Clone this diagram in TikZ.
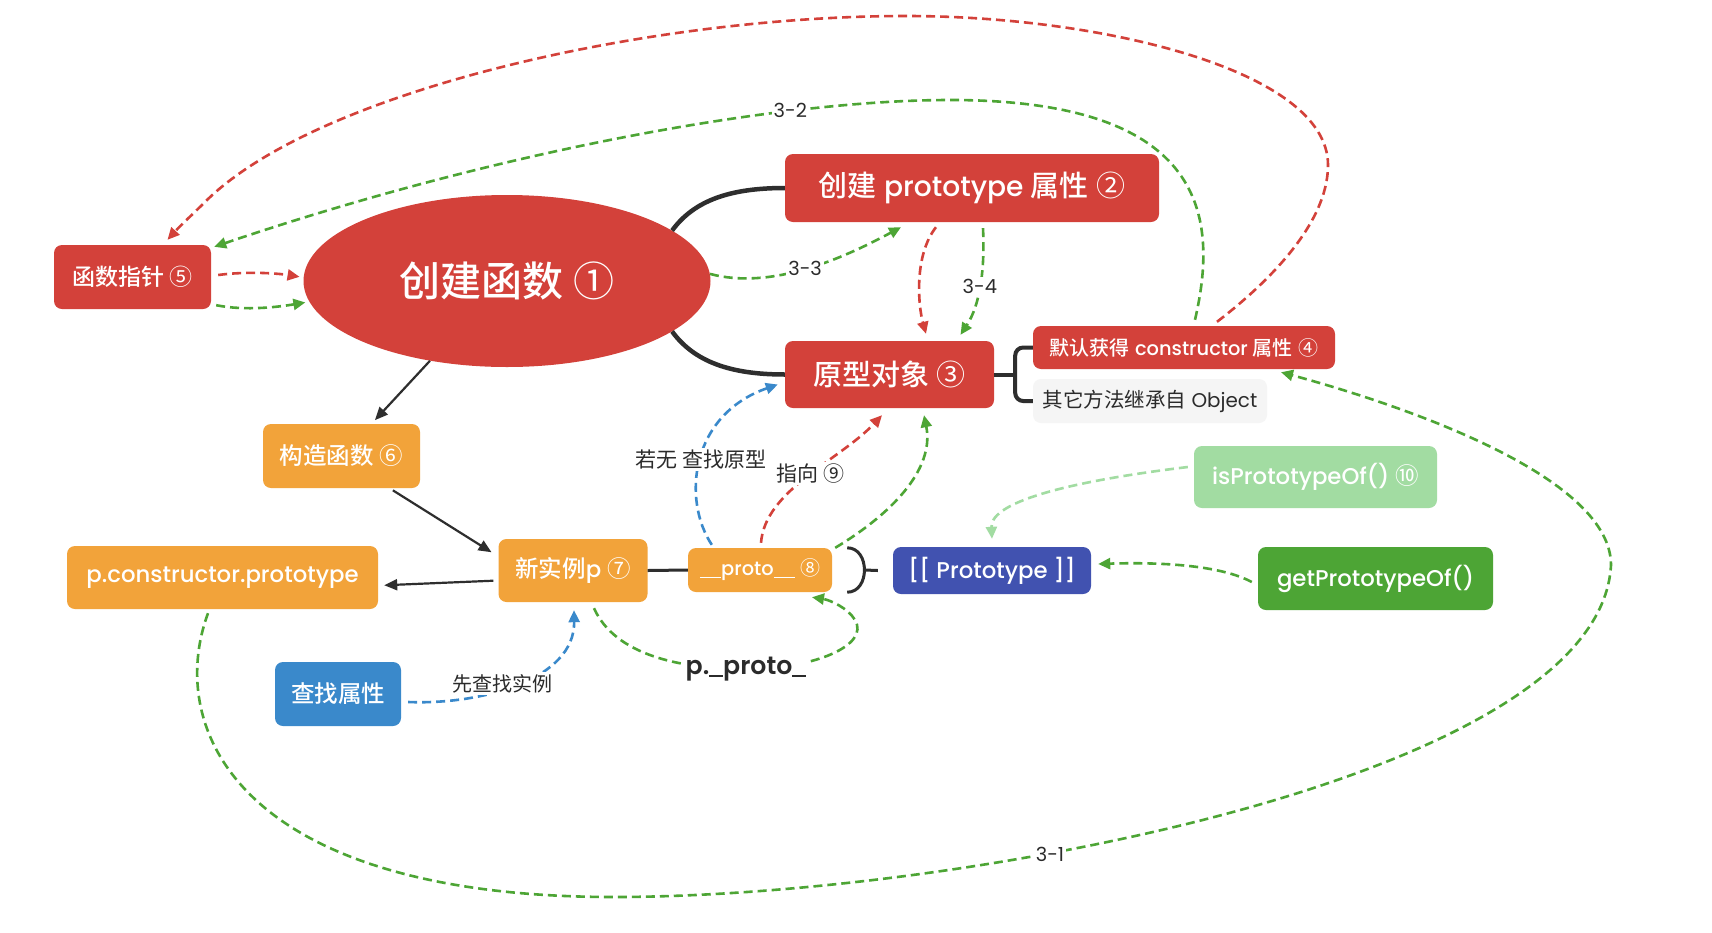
\documentclass[tikz,border=0pt]{standalone}
\usepackage{fontspec}
\IfFontExistsTF{Poppins Medium}
  {\setmainfont{Poppins}[Scale=0.97, BoldFont={Poppins Medium}]}
  {\setmainfont{Poppins}[Scale=0.97]}
\IfFontExistsTF{Poppins SemiBold}
  {\newfontfamily\popsb{Poppins SemiBold}[Scale=0.97]}
  {\newfontfamily\popsb{Poppins Bold}[Scale=0.97]}
\IfFontExistsTF{Noto Sans CJK SC Medium}
  {\newfontfamily\cjk{Noto Sans CJK SC}[BoldFont={Noto Sans CJK SC Medium}]}
  {\newfontfamily\cjk{Noto Sans CJK SC}}
\usetikzlibrary{arrows.meta,shapes.geometric,calc}
\definecolor{cRed}{HTML}{D3413A}
\definecolor{cOrange}{HTML}{F2A33A}
\definecolor{cBlue}{HTML}{3A89CB}
\definecolor{cIndigo}{HTML}{4152B0}
\definecolor{cLightGreen}{HTML}{A2DCA2}
\definecolor{cGreen}{HTML}{4DA535}
\definecolor{cGray}{HTML}{F5F5F5}
\definecolor{cText}{HTML}{2B2B2B}
\definecolor{cLine}{HTML}{2E2E2E}
\newcommand\myfs[1]{\fontsize{#1}{#1}\selectfont}
\newcommand\zh[1]{{\cjk #1}}
\newcommand\cnum[1]{{\cjk\mdseries #1}}
\newcommand\us{\rule[-0.12em]{0.55em}{0.085em}}
\tikzset{
  box/.style={rectangle, rounded corners=8pt, inner sep=0pt, text=white, font=\bfseries\myfs{23.5}},
  redbox/.style={box, fill=cRed},
  orangebox/.style={box, fill=cOrange},
  mind/.style={draw=cLine, line width=4.5pt},
  arr/.style={draw=cLine, line width=2.2pt, -{Triangle[length=13pt,width=11pt]}},
  dline/.style={dash pattern=on 9pt off 5pt, line width=2.6pt, -{Triangle[length=12pt,width=11pt]}},
  lbl/.style={fill=white, inner sep=2pt, text=cText, font=\myfs{20}},
  plbl/.style={fill=white, inner sep=2pt, text=cText, font=\popsb\myfs{26}},
}
\begin{document}
\begin{tikzpicture}[x=1pt,y=-1pt]
\fill[white] (0,0) rectangle (1712,932);
\useasboundingbox (0,0) rectangle (1712,932);

% nodes
\node[redbox, minimum width=157pt, minimum height=64pt, font=\bfseries\myfs{23}] (fp) at (132.5,277) {\zh{函数指针} \cnum{⑤}};
\node[ellipse, fill=cRed, minimum width=407pt, minimum height=172pt, inner sep=0pt, text=white, font=\bfseries\myfs{41}] (cf) at (507,281) {\zh{创建函数} \cnum{①}};
\node[redbox, minimum width=374pt, minimum height=68pt, font=\bfseries\myfs{29}] (pa) at (972,188) {\zh{创建} prototype \zh{属性} \cnum{②}};
\node[redbox, minimum width=209pt, minimum height=67pt, font=\bfseries\myfs{29}] (po) at (889.5,374.5) {\zh{原型对象} \cnum{③}};
\node[redbox, minimum width=302pt, minimum height=43pt, font=\bfseries\myfs{20}] (dc) at (1184,347.5) {\zh{默认获得} constructor \zh{属性} \cnum{④}};
\node[box, fill=cGray, text=cText, minimum width=234pt, minimum height=44pt, font=\myfs{20.5}] (om) at (1150,401) {\zh{其它方法继承自} Object};
\node[orangebox, minimum width=157pt, minimum height=64pt] (ct) at (341.5,456) {\zh{构造函数} \cnum{⑥}};
\node[orangebox, minimum width=149pt, minimum height=63pt] (np) at (573,570.5) {\zh{新实例}p \cnum{⑦}};
\node[orangebox, minimum width=144pt, minimum height=44pt, font=\bfseries\myfs{20}] (pr) at (760,570) {\us\us proto\us\us{} \cnum{⑧}};
\node[orangebox, minimum width=311pt, minimum height=63pt] (pc) at (222.5,577.5) {p.constructor.prototype};
\node[box, fill=cBlue, minimum width=126pt, minimum height=64pt] (fa) at (338,694) {\zh{查找属性}};
\node[box, fill=cIndigo, minimum width=198pt, minimum height=47pt] (pt) at (992,570.5) {[[ Prototype ]]};
\node[box, fill=cLightGreen, minimum width=243pt, minimum height=62pt] (ip) at (1315.5,477) {isPrototypeOf() \cnum{⑩}};
\node[box, fill=cGreen, minimum width=235pt, minimum height=63pt] (gp) at (1375.5,578.5) {getPrototypeOf()};

% mind map connectors
\draw[mind] (cf.17) .. controls +(22,-30) and +(-55,0) .. (pa.west);
\draw[mind] (cf.-17) .. controls +(22,30) and +(-55,0) .. (po.west);
\draw[mind, line width=4pt, rounded corners=8pt] (dc.west) -| ($(po.east)+(21,0)$) |- (om.west);
\draw[mind, line width=4pt] (po.east) -- ++(21,0);

% black arrows
\draw[arr, shorten >=5pt] (cf.-134) -- (ct.47);
\draw[arr, shorten <=4pt, shorten >=8pt] ($(ct.south)+(48,0)$) -- ($(np.west)+(0,-14)$);
\draw[arr, shorten <=5pt, shorten >=6pt] ($(np.west)+(0,10)$) -- ($(pc.east)+(0,8)$);
\draw[cLine, line width=3pt] (np.east) -- (pr.west);
\draw[cLine, line width=3pt] ($(pr.north east)+(15,0)$) .. controls +(23,0) and +(23,0) .. ($(pr.south east)+(15,0)$);
\draw[cLine, line width=3pt] ($(pr.east)+(32,0)$) -- ($(pt.west)+(-15,0)$);

% function pointer to function
\draw[dline, cRed, shorten >=4pt] ($(fp.east)+(7,-2)$) .. controls +(30,-4) and +(-25,-4) .. (cf.179);
\draw[dline, cGreen, shorten >=4pt] ($(fp.south east)+(5,-4)$) .. controls +(30,6) and +(-30,5) .. (cf.186);

% big red arc
\draw[dline, cRed] ($(dc.north)+(33,-4)$) .. controls (1265,285) and (1328,225) .. (1328,165)
  .. controls (1328,70) and (1100,16) .. (906,16)
  .. controls (650,16) and (320,90) .. (207,200)
  .. controls (195,212) and (180,226) .. ($(fp.north)+(35,-5)$);

% green 3-2
\draw[dline, cGreen] ($(dc.north)+(11,-6)$) .. controls (1218,220) and (1210,100) .. (950,100)
  .. controls (780,100) and (500,150) .. ($(fp.north east)+(3,2)$) node[lbl, pos=0.27] {3-2};

% 3-3
\draw[dline, cGreen] (cf.2) .. controls (770,290) and (840,260) .. ($(pa.south)+(-71,5)$) node[lbl, pos=0.5] {3-3};
% pa -> po
\draw[dline, cRed] ($(pa.south)+(-36,5)$) .. controls (914,255) and (918,305) .. ($(po.north)+(36.5,-7)$);
\draw[dline, cGreen] ($(pa.south)+(11,6)$) .. controls (985,270) and (980,305) .. ($(po.north)+(71,-6)$) node[lbl, pos=0.5] {3-4};

% proto -> po
\draw[dline, cBlue] ($(pr.north west)+(24,-3)$) .. controls (682,500) and (690,415) .. ($(po.west)+(-7,10)$) node[lbl, pos=0.5, font=\cjk\myfs{21}] {若无 查找原型};
\draw[dline, cRed] ($(pr.north)+(1,-5)$) .. controls (765,490) and (840,460) .. ($(po.south)+(-7.5,7)$) node[lbl, pos=0.52, font=\cjk\myfs{21}] {指向 ⑨};
\draw[dline, cGreen] ($(pr.north east)+(3,0)$) .. controls (890,515) and (935,470) .. ($(po.south)+(34.5,7)$);

% search property
\draw[dline, cBlue] ($(fa.east)+(7,8)$) .. controls (480,705) and (575,680) .. ($(np.south)+(1,8)$) node[lbl, pos=0.42, yshift=6pt, font=\cjk\myfs{20}] {先查找实例};

% p._proto_ loop
\draw[dline, cGreen] ($(np.south)+(21,6)$) .. controls (615,655) and (680,669) .. (746,669) node[plbl] {p.\us proto\us}
  .. controls (815,669) and (870,645) .. (855,620)
  .. controls (848,608) and (830,600) .. ($(pr.south)+(52,5)$);

% isPrototypeOf / getPrototypeOf
\draw[dline, cLightGreen] ($(ip.west)+(-6,-10)$) .. controls (1080,480) and (990,500) .. ($(pt.north)+(0,-8)$);
\draw[dline, cGreen] ($(gp.west)+(-6,3.5)$) .. controls (1220,565) and (1160,562) .. ($(pt.east)+(7,-6.5)$);

% green 3-1
\draw[dline, cGreen] ($(pc.south)+(-14.5,4)$) .. controls (165,730) and (240,897) .. (614,897)
  .. controls (950,897) and (1600,780) .. (1611,565)
  .. controls (1611,480) and (1420,410) .. ($(dc.south)+(97,3)$);
\node[lbl] (l31) at (1050,854) {3-1};
\end{tikzpicture}
\end{document}
